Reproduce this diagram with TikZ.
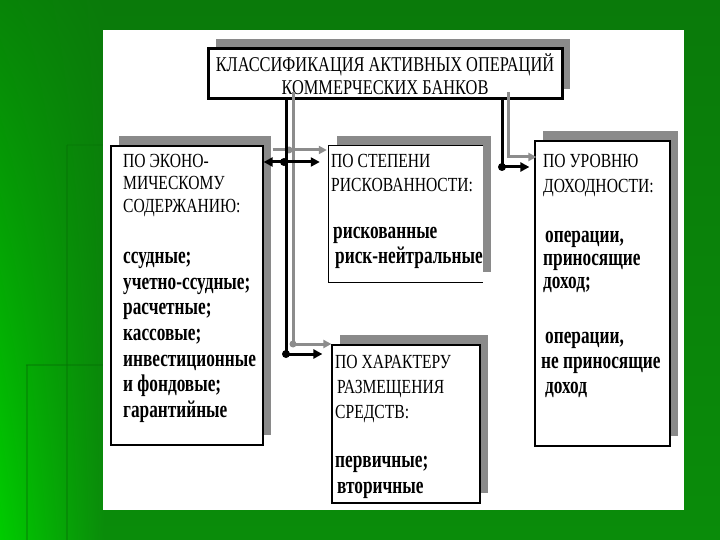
\documentclass[tikz,border=0pt]{standalone}
\usepackage{fontspec}
\setmainfont{Liberation Serif}[FakeStretch=0.78, BoldFeatures={FakeStretch=0.72}]
\usetikzlibrary{arrows.meta,shadows,shadings}
\definecolor{shd}{HTML}{8A8A8A}
\definecolor{gln}{HTML}{8C8C8C}
\definecolor{gA}{HTML}{0A7A0A}
\definecolor{gB}{HTML}{0A8C0A}
\definecolor{gC}{HTML}{00CC00}
\definecolor{gD}{HTML}{078407}
\definecolor{gL}{HTML}{067006}
\begin{document}
\begin{tikzpicture}[x=1pt,y=-1pt,
  bshadow/.style={general shadow={fill=shd, shadow xshift=8pt, shadow yshift=10pt}},
  box/.style={draw=black, line width=1.2pt, fill=white, inner sep=0pt, bshadow},
  boxnr/.style={draw=none, fill=white, inner sep=0pt, bshadow},
  titlebox/.style={draw=black, line width=3pt, fill=white, inner sep=0pt, bshadow,
     align=center, font=\fontsize{21}{23}\selectfont},
  hdr/.style={anchor=base west, inner sep=0pt, font=\fontsize{20}{23}\selectfont},
  itm/.style={anchor=base west, inner sep=0pt, font=\bfseries\fontsize{24}{25}\selectfont},
  bln/.style={draw=black, line width=3pt},
  gl/.style={draw=gln, line width=3pt},
  btip/.style={-{Triangle[length=9pt,width=9pt]}},
  gtip/.style={-{Triangle[length=8pt,width=8pt]}},
  bdot/.style={circle, fill=black, inner sep=0pt, minimum size=8pt},
  gdot/.style={circle, fill=gln, inner sep=0pt, minimum size=7pt}]
\useasboundingbox (0,0) rectangle (720,540);
% background
\shade[shading=axis, top color=gA, bottom color=gB] (103,0) rectangle (720,540);
\shade[upper left=gD, upper right=gA, lower left=gC, lower right=gB] (0,0) rectangle (104,540);
\draw[gL, line width=1.2pt, opacity=0.4] (67,145) -- (67,540);
\draw[gL, line width=1.2pt, opacity=0.25] (67,145) -- (103,145);
\draw[gL, line width=1.2pt, opacity=0.4] (26,365) -- (103,365);
\draw[gL, line width=1.2pt, opacity=0.4] (27,365) -- (27,540);
\fill[white] (103,30) rectangle (684,510);

% boxes
\node[titlebox, minimum width=354pt, minimum height=50pt] (T) at (385,74)
  {КЛАССИФИКАЦИЯ АКТИВНЫХ ОПЕРАЦИЙ\\КОММЕРЧЕСКИХ БАНКОВ};
\node[box, minimum width=152pt, minimum height=299pt] (E) at (187,295.5) {};
\node[boxnr, minimum width=154pt, minimum height=136pt] (R) at (406,214) {};
\draw[black, line width=1.2pt] (R.north east) -- (R.north west) -- (R.south west) -- (R.south east);
\node[box, minimum width=135pt, minimum height=305pt] (D) at (602.5,293.5) {};
\node[box, minimum width=148pt, minimum height=158pt] (P) at (406,424) {};

% texts: economic content
\node[hdr] (e1) at (123,168) {ПО ЭКОНО-};
\node[hdr] (e2) at (123,190) {МИЧЕСКОМУ};
\node[hdr] (e3) at (123,213) {СОДЕРЖАНИЮ:};
\node[itm] (e4) at (123,263) {ссудные;};
\node[itm] (e5) at (123,289) {учетно-ссудные;};
\node[itm] (e6) at (123,314) {расчетные;};
\node[itm] (e7) at (123,340) {кассовые;};
\node[itm] (e8) at (123,366) {инвестиционные};
\node[itm] (e9) at (123,391) {и фондовые;};
\node[itm] (e10) at (123,417) {гарантийные};
% risk
\node[hdr] (r1) at (331,168) {ПО СТЕПЕНИ};
\node[hdr] (r2) at (331,192) {РИСКОВАННОСТИ:};
\node[itm] (r3) at (333,238) {рискованные};
\node[itm] (r4) at (335,263) {риск-нейтральные};
% income
\node[hdr] (d1) at (543,168) {ПО УРОВНЮ};
\node[hdr] (d2) at (543,193) {ДОХОДНОСТИ:};
\node[itm] (d3) at (545,242) {операции,};
\node[itm] (d4) at (543,265) {приносящие};
\node[itm] (d5) at (543,288) {доход;};
\node[itm] (d6) at (545,343) {операции,};
\node[itm] (d7) at (541,368) {не приносящие};
\node[itm] (d8) at (545,393) {доход};
% placement
\node[hdr] (p1) at (335,368) {ПО ХАРАКТЕРУ};
\node[hdr] (p2) at (337,393) {РАЗМЕЩЕНИЯ};
\node[hdr] (p3) at (335,418) {СРЕДСТВ:};
\node[itm] (p4) at (335,467) {первичные;};
\node[itm] (p5) at (337,493) {вторичные};

% connector points
\coordinate (jt) at (286,162);
\coordinate (jb) at (286,354);
\coordinate (gt) at (293,150);
\coordinate (gb) at (293,344);
\coordinate (rj) at (502,167);
\coordinate (rg) at (508,157);

% gray connectors
\draw[gl] ([yshift=8pt]T.south -| gb) -- (gb);
\draw[gl, gtip] ([xshift=9pt]E.east |- gt) -- ([xshift=-2pt]R.west |- gt);
\draw[gl, gtip] (gb) -- (P.west |- gb);
\draw[gl, gtip] ([yshift=8pt]T.south -| rg) -- (rg) -- ([xshift=2pt]D.west |- rg);
\node[gdot] (g1) at ([xshift=-4pt]gt) {};
\node[gdot] (g2) at (gb) {};
% black connectors
\draw[bln] (T.south -| jt) -- (jb);
\draw[bln, {Triangle[length=9pt,width=9pt]}-{Triangle[length=9pt,width=9pt]}] (E.east |- jt) -- ([xshift=-9pt]R.west |- jt);
\draw[bln, btip] (jb) -- ([xshift=-9pt]P.west |- jb);
\draw[bln, btip] (T.south -| rj) -- (rj) -- ([xshift=-5pt]D.west |- rj);
\node[bdot] (b1) at ([xshift=-2pt]jt) {};
\node[bdot] (b2) at (jb) {};
\node[bdot] (b3) at (rj) {};
\end{tikzpicture}
\end{document}
